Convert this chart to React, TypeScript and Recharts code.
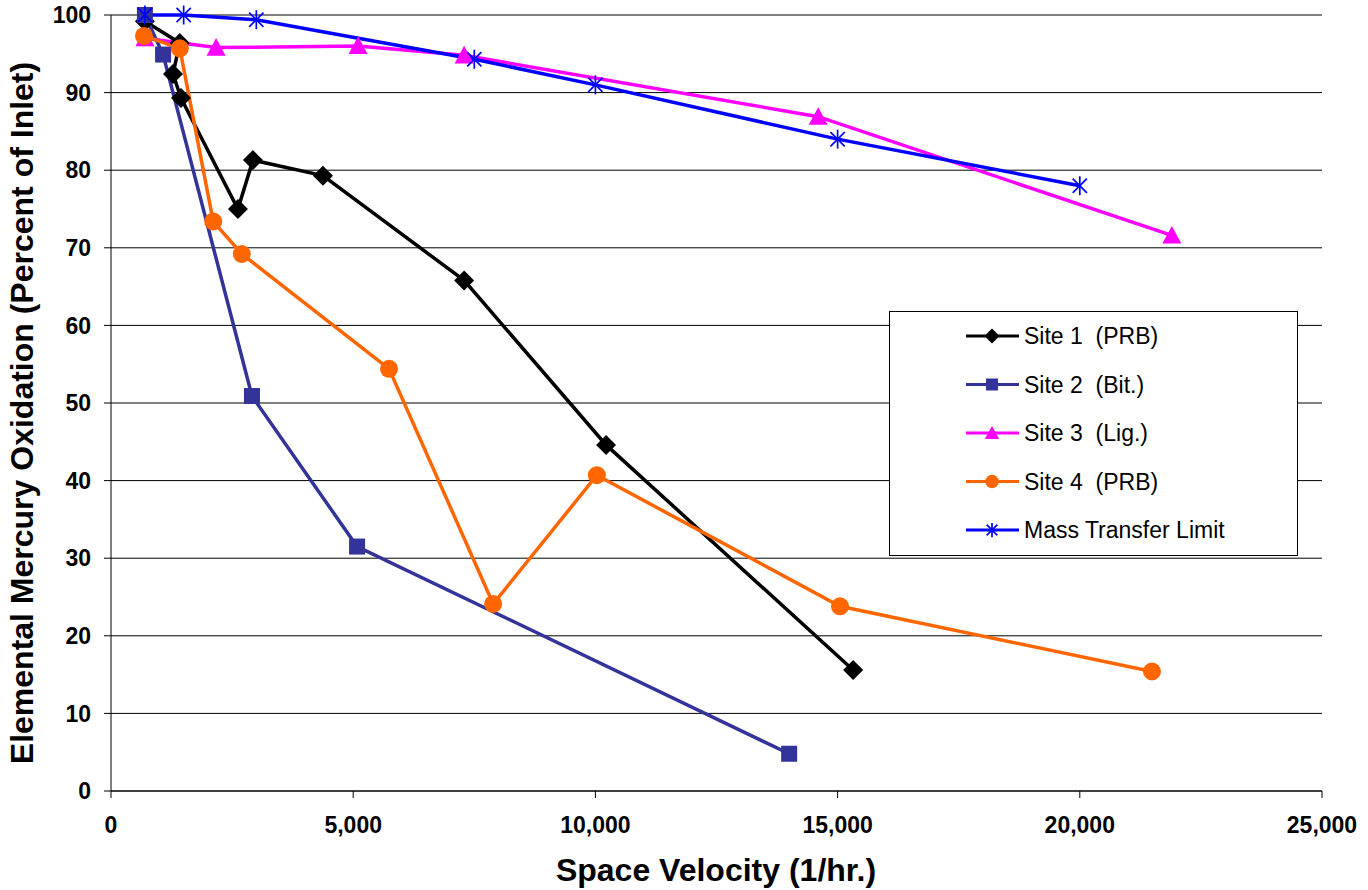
import React from "react";
import { CartesianGrid, Legend, Line, LineChart, XAxis, YAxis } from "recharts";

// space velocity (1/hr.) and oxidation (% of inlet)
const site1X = [700, 1420, 1280, 1445, 2620, 2930, 4375, 7290, 10220, 15320];
const site1Y = [99.2, 96.4, 92.4, 89.3, 75, 81.3, 79.3, 65.8, 44.6, 15.6];

const site2X = [700, 1075, 2910, 5080, 14000];
const site2Y = [100, 94.9, 50.9, 31.5, 4.8];

const site3X = [700, 2170, 5100, 7290, 14600, 21900];
const site3Y = [97, 95.8, 96, 94.8, 86.9, 71.6];

const site4X = [680, 1420, 2110, 2700, 5740, 7890, 10030, 15050, 21490];
const site4Y = [97.3, 95.7, 73.4, 69.2, 54.4, 24.1, 40.7, 23.8, 15.4];

const limitX = [700, 1500, 3000, 7500, 10000, 15000, 20000];
const limitY = [100, 100, 99.4, 94.3, 91, 84, 78];

const xTicks = [0, 5000, 10000, 15000, 20000, 25000];
const yTicks = [0, 10, 20, 30, 40, 50, 60, 70, 80, 90, 100];

const FONT = '"Liberation Sans", Arial, sans-serif';

const zip = (xs: number[], ys: number[]) => xs.map((x, i) => ({ x, y: ys[i] }));

type Shape = "diamond" | "square" | "triangle" | "circle" | "star";

const series: { name: string; color: string; shape: Shape; data: { x: number; y: number }[] }[] = [
  { name: "Site 1  (PRB)", color: "#000000", shape: "diamond", data: zip(site1X, site1Y) },
  { name: "Site 2  (Bit.)", color: "#333399", shape: "square", data: zip(site2X, site2Y) },
  { name: "Site 3  (Lig.)", color: "#FF00FF", shape: "triangle", data: zip(site3X, site3Y) },
  { name: "Site 4  (PRB)", color: "#FF6600", shape: "circle", data: zip(site4X, site4Y) },
  { name: "Mass Transfer Limit", color: "#0000FF", shape: "star", data: zip(limitX, limitY) },
];

function Marker({ shape, color, cx, cy, s = 1 }: { shape: Shape; color: string; cx: number; cy: number; s?: number }) {
  if (shape === "diamond") {
    const r = 10 * s;
    return <polygon points={`${cx},${cy - r} ${cx + r},${cy} ${cx},${cy + r} ${cx - r},${cy}`} fill={color} />;
  }
  if (shape === "square") {
    const h = 8 * s;
    return <rect x={cx - h} y={cy - h} width={h * 2} height={h * 2} fill={color} />;
  }
  if (shape === "triangle") {
    const w = 9.5 * s;
    return <polygon points={`${cx},${cy - w} ${cx + w},${cy + w * 0.85} ${cx - w},${cy + w * 0.85}`} fill={color} />;
  }
  if (shape === "circle") {
    return <circle cx={cx} cy={cy} r={9 * s} fill={color} />;
  }
  const r = 9.5 * s;
  const d = r * 0.75;
  return (
    <g stroke={color} strokeWidth={1.7}>
      <line x1={cx} y1={cy - r} x2={cx} y2={cy + r} />
      <line x1={cx - d} y1={cy - d} x2={cx + d} y2={cy + d} />
      <line x1={cx - d} y1={cy + d} x2={cx + d} y2={cy - d} />
    </g>
  );
}

const makeDot = (shape: Shape, color: string) => (props: any) => (
  <Marker key={`${shape}-${props.index}`} shape={shape} color={color} cx={props.cx} cy={props.cy} />
);

function LegendBox() {
  return (
    <div style={{ width: 407, height: 243, border: "1px solid #000", background: "#fff" }}>
      <svg width={407} height={243}>
        {series.map((s, i) => {
          const y = 24 + i * 48.5;
          return (
            <g key={s.name}>
              <line x1={76} x2={129} y1={y} y2={y} stroke={s.color} strokeWidth={3} />
              <Marker shape={s.shape} color={s.color} cx={102} cy={y} s={0.75} />
              <text x={134} y={y + 8} fontFamily={FONT} fontSize={23} fill="#000" style={{ whiteSpace: "pre" }}>
                {s.name}
              </text>
            </g>
          );
        })}
      </svg>
    </div>
  );
}

const YTitle = () => (
  <text
    x={33}
    y={413}
    transform="rotate(-90, 33, 413)"
    textAnchor="middle"
    fontFamily={FONT}
    fontWeight="bold"
    fontSize={32}
    fill="#000"
  >
    Elemental Mercury Oxidation (Percent of Inlet)
  </text>
);

const XTitle = () => (
  <text x={716} y={881} textAnchor="middle" fontFamily={FONT} fontWeight="bold" fontSize={32} fill="#000">
    Space Velocity (1/hr.)
  </text>
);

export default function App() {
  const tickStyle = { fill: "#000", fontSize: 23, fontWeight: "bold", fontFamily: FONT };
  return (
    <div style={{ position: "absolute", left: 0, top: 0, background: "#fff" }}>
      <LineChart width={1368} height={890} margin={{ top: 15, right: 46, left: 0, bottom: 0 }}>
        <CartesianGrid horizontal vertical={false} stroke="#000" strokeWidth={1} />
        <XAxis
          type="number"
          dataKey="x"
          domain={[0, 25000]}
          ticks={xTicks}
          interval={0}
          height={99}
          tickSize={7}
          tickMargin={19}
          stroke="#000"
          tick={tickStyle}
          tickFormatter={(v: number) => v.toLocaleString("en-US")}
          allowDuplicatedCategory={false}
          label={<XTitle />}
        />
        <YAxis
          type="number"
          dataKey="y"
          domain={[0, 100]}
          ticks={yTicks}
          interval={0}
          width={111}
          tickSize={7}
          tickMargin={13}
          stroke="#000"
          tick={tickStyle}
          label={<YTitle />}
        />
        <Legend
          layout="vertical"
          align="center"
          verticalAlign="middle"
          wrapperStyle={{ position: "absolute", left: 889, top: 311, width: 409, height: 245 }}
          content={() => <LegendBox />}
        />
        {series.map((s) => (
          <Line
            key={s.name}
            data={s.data}
            dataKey="y"
            name={s.name}
            type="linear"
            stroke={s.color}
            strokeWidth={3.5}
            dot={makeDot(s.shape, s.color)}
            activeDot={false}
            isAnimationActive={false}
          />
        ))}
      </LineChart>
    </div>
  );
}
